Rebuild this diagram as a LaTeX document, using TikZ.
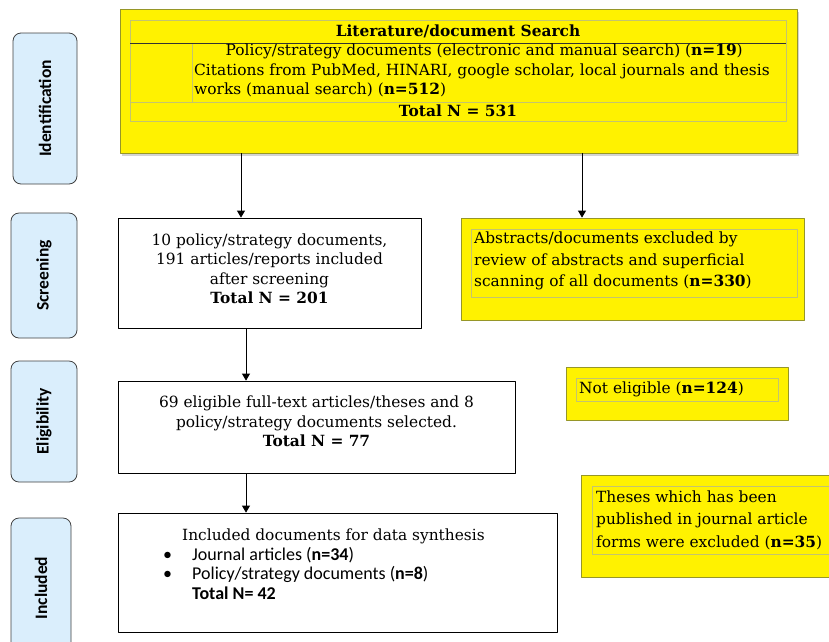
\documentclass[tikz,border=0pt]{standalone}
\usepackage{fontspec}
\setmainfont{DejaVu Serif}
\newfontfamily\calib{Carlito}
\usetikzlibrary{shadows,arrows.meta}
\definecolor{stageblue}{RGB}{218,238,252}
\definecolor{cellline}{RGB}{196,196,110}
\definecolor{yborder}{RGB}{150,150,40}
\begin{document}
\begin{tikzpicture}[x=1pt,y=-1pt,line join=round,>={Triangle[length=7pt,width=8pt]},
 font=\fontsize{15.4}{19.5}\selectfont,
 stage/.style={draw=black!75,fill=stageblue,rounded corners=8pt,line width=.8pt,rotate=90,
  font=\calib\bfseries\fontsize{17.5}{19}\selectfont},
 wbox/.style={draw,line width=.8pt,fill=white,align=center},
 ybox/.style={draw=yborder,fill=yellow,line width=.8pt},
 inner/.style={draw=cellline,line width=.6pt},
 arr/.style={->,line width=.8pt}]
\useasboundingbox (0,0) rectangle (829,641);
\clip (0,0) rectangle (829,641);
\foreach \nm/\txt/\cx/\cy/\w/\h in {ident/Identification/45/108.5/64/151,scr/Screening/44/275.5/66/125,
 elig/Eligibility/44/421.5/66/121,incl/Included/41/588/60/140}
\node[stage,minimum width=\h,minimum height=\w] (\nm) at (\cx,\cy) {\txt};
\node[ybox,drop shadow={shadow xshift=2pt,shadow yshift=-3pt,opacity=.35},minimum width=677,minimum height=144] (search) at (458.5,81) {};
\draw[inner] (130,20) rectangle (786,121) (192,43)--(192,102) (130,102)--(786,102);
\draw[black!80,line width=.8pt] (130,43)--(786,43);
\node[font=\bfseries\fontsize{15.4}{19.5}\selectfont] (stitle) at (458,31) {Literature/document Search};
\node[anchor=north west,inner sep=0,align=left] (sbody) at (194,44) {\makebox[580pt]{Policy/strategy documents (electronic and manual search) (\textbf{n=19})}\\
Citations from PubMed, HINARI, google scholar, local journals and thesis\\
works (manual search) (\textbf{n=512})};
\node[font=\bfseries\fontsize{15.4}{19.5}\selectfont] (stotal) at (458,111) {Total N = 531};
\node[wbox,minimum width=303,minimum height=110] (screen) at (269.5,273) {10 policy/strategy documents,\\191 articles/reports included\\after screening\\\textbf{Total N = 201}\rule[-9pt]{0pt}{0pt}};
\node[ybox,minimum width=343,minimum height=102] (abstr) at (632.5,269) {};
\draw[inner] (471,229) rectangle (797,297);
\node[anchor=west,align=left,inner sep=0,font=\fontsize{15.4}{21.5}\selectfont] (abtxt) at (474,261) {Abstracts/documents excluded by\\review of abstracts and superficial\\scanning of all documents (\textbf{n=330})};
\node[wbox,minimum width=397,minimum height=92] (elsel) at (316.5,427) {69 eligible full-text articles/theses and 8\\policy/strategy documents selected.\\\textbf{Total N = 77}\rule[-11pt]{0pt}{0pt}};
\node[ybox,minimum width=222,minimum height=53] (noel) at (677,393.5) {};
\draw[inner] (576,378) rectangle (778,401);
\node[anchor=west,inner sep=0] (noeltxt) at (579,389) {Not eligible (\textbf{n=124})};
\node[wbox,minimum width=439,minimum height=119] (synth) at (337.5,572.5) {};
\node[anchor=west,align=left,inner sep=0] (syntxt) at (163,564) {\hspace*{19pt}Included documents for data synthesis\\
{\calib\fontsize{18}{19.5}\selectfont\makebox[29pt][l]{\textbullet}Journal articles (\textbf{n=34})}\\
{\calib\fontsize{18}{19.5}\selectfont\makebox[29pt][l]{\textbullet}Policy/strategy documents (\textbf{n=8})}\\
{\calib\fontsize{18}{19.5}\selectfont\hspace*{29pt}\textbf{Total N= 42}}};
\node[ybox,minimum width=262,minimum height=102,anchor=north west] (thes) at (581,475) {};
\draw[inner] (840,486) -| (592,554) -- (840,554);
\node[anchor=west,align=left,inner sep=0,font=\fontsize{15.4}{22.5}\selectfont] (thestxt) at (596,520) {Theses which has been\\published in journal article\\forms were excluded (\textbf{n=35})};
\draw[arr] (search.south -| 241,0) -- (241,0 |- screen.north);
\draw[arr] (search.south -| 582,0) -- (582,0 |- abstr.north);
\draw[arr] (screen.south -| 246,0) -- (246,0 |- elsel.north);
\draw[arr] (elsel.south -| 246,0) -- (246,0 |- synth.north);
\end{tikzpicture}
\end{document}
